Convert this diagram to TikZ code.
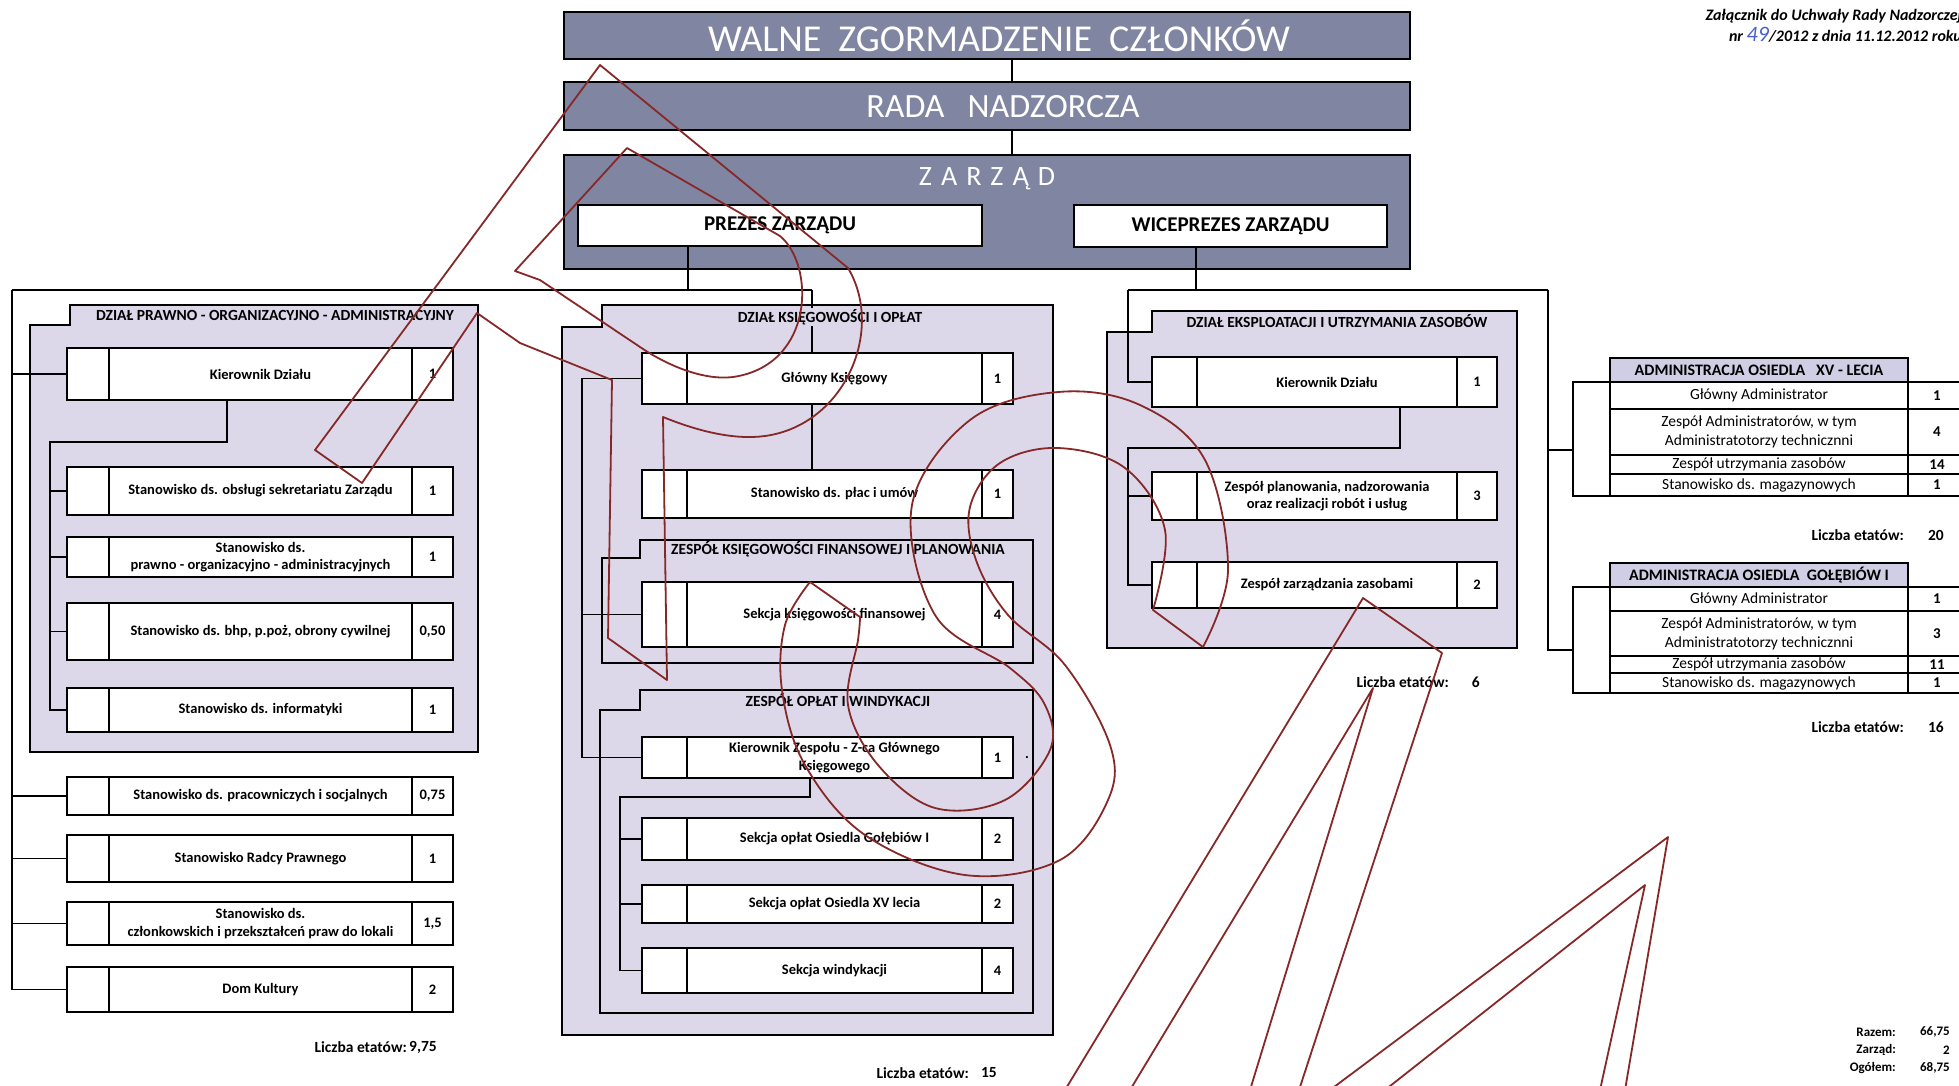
\documentclass[tikz,border=0pt]{standalone}
\usepackage{fontspec}
\setmainfont{Carlito}
\usetikzlibrary{calc}

\definecolor{zarzadblue}{RGB}{128,134,162}
\definecolor{deptlav}{RGB}{220,216,234}
\definecolor{headlav}{RGB}{208,206,228}
\definecolor{inkblue}{RGB}{70,95,205}
\definecolor{stampred}{RGB}{135,40,40}

\tikzset{
  topbox/.style={draw, line width=2.2pt, fill=zarzadblue, inner sep=0pt},
  toptext/.style={text=white, inner sep=0pt},
  headbox/.style={draw, line width=2pt, fill=white, inner sep=0pt,
    font=\bfseries\fontsize{21}{23}\selectfont},
  dept/.style={draw, line width=1.8pt, fill=deptlav},
  depttitle/.style={font=\bfseries\fontsize{15.5}{17}\selectfont, inner sep=1pt},
  posbox/.style={draw, line width=2pt, fill=white, inner sep=0pt, outer sep=0pt},
  cellrule/.style={line width=1.2pt},
  postext/.style={font=\bfseries\fontsize{14.5}{17.5}\selectfont, align=center, inner sep=1pt},
  conn/.style={line width=1.1pt},
  admhead/.style={draw, line width=1.6pt, fill=headlav, inner sep=0pt,
    font=\bfseries\fontsize{16}{18}\selectfont},
  admbox/.style={draw, line width=1.8pt, fill=white, inner sep=0pt},
  rowrule/.style={line width=1.1pt},
  admtext/.style={font=\fontsize{15.5}{19}\selectfont, align=center, inner sep=1pt},
  admnum/.style={font=\bfseries\fontsize{15}{17}\selectfont, inner sep=1pt},
  etaty/.style={font=\bfseries\fontsize{15.5}{17}\selectfont, inner sep=1pt},
  sumtext/.style={font=\bfseries\fontsize{13}{15}\selectfont, inner sep=1pt},
  stamp/.style={draw=stampred, line width=1.8pt, line join=round},
}

% name, left, top, right, bottom, left cell, right cell, text, number
\newcommand{\stan}[9]{%
  \node[posbox, minimum width={(#4-#2)*1pt}, minimum height={(#5-#3)*1pt}] (#1) at ({(#2+#4)/2},{(#3+#5)/2}) {};
  \draw[cellrule] ($(#1.north west)+(#6,0)$) -- ($(#1.south west)+(#6,0)$);
  \draw[cellrule] ($(#1.north east)-(#7,0)$) -- ($(#1.south east)-(#7,0)$);
  \node[postext] (#1-t) at ({(#2+#6+#4-#7)/2},{(#3+#5)/2}) {#8};
  \node[postext] (#1-n) at ({#4-#7/2},{(#3+#5)/2}) {#9};
}
% notch x, left x, top y, notch y, right x, bottom y
\newcommand{\deptframe}[6]{%
  \filldraw[dept] (#1,#3) -- (#5,#3) -- (#5,#6) -- (#2,#6) -- (#2,#4) -- (#1,#4) -- cycle;}

\begin{document}
\begin{tikzpicture}[x=1pt,y=-1pt]
  \path[use as bounding box, fill=white] (0,0) rectangle (1959,1085);

  % header note
  \node[anchor=east, font=\bfseries\itshape\fontsize{16}{18}\selectfont, inner sep=0pt] (zal1) at (1962,16) {Załącznik do Uchwały Rady Nadzorczej};
  \node[anchor=east, font=\bfseries\itshape\fontsize{16}{18}\selectfont, inner sep=0pt] (zal2) at (1962,35)
    {nr {\color{inkblue}\fontsize{22}{22}\selectfont\mdseries 49}/2012 z dnia 11.12.2012 roku};

  % governing bodies
  \node[topbox, minimum width=846pt, minimum height=47pt] (walne) at (987,35.5) {};
  \node[toptext, font=\fontsize{38}{40}\selectfont] (walnet) at (999,36) {WALNE\ \ ZGORMADZENIE\ \ CZŁONKÓW};
  \node[topbox, minimum width=846pt, minimum height=48pt] (rada) at (987,106) {};
  \node[toptext, font=\fontsize{34}{36}\selectfont] (radat) at (1003,107) {RADA\ \ \ NADZORCZA};
  \node[topbox, minimum width=846pt, minimum height=114pt] (zarzad) at (987,212) {};
  \node[toptext, font=\fontsize{28}{30}\selectfont] (zarzadt) at (987,179)
    {Z\hspace{9pt}A\hspace{9pt}R\hspace{9pt}Z\hspace{9pt}Ą\hspace{9pt}D};
  \node[headbox, minimum width=404pt, minimum height=41pt] (prezes) at (780,225.5) {PREZES ZARZĄDU};
  \node[headbox, minimum width=313pt, minimum height=42pt] (wice) at (1230.5,226) {WICEPREZES ZARZĄDU};

  \coordinate (t0) at (1012,0);
  \draw[conn] (walne.south -| t0) -- (rada.north -| t0);
  \draw[conn] (rada.south -| t0) -- (zarzad.north -| t0);

  % departments
  \deptframe{70}{30}{305}{325}{478}{752}
  \deptframe{602}{562}{305}{327}{1053}{1035}
  \deptframe{640}{602}{540}{558}{1033}{663}
  \deptframe{640}{600}{690}{710}{1033}{1013}
  \deptframe{1152}{1107}{311}{332}{1517}{648}

  % connectors
  \coordinate (jL) at (12,290);
  \coordinate (jM) at (812,290);
  \coordinate (p0) at (688,290);
  \coordinate (jE) at (1128,290);
  \coordinate (jA) at (1548,290);
  \coordinate (w0) at (1196,290);
  \draw[conn] (prezes.south -| p0) -- (p0);
  \draw[conn] (wice.south -| w0) -- (w0);
  \draw[conn] (jM) -- (jL);
  \draw[conn] (jE) -- (jA);

  \node[depttitle] (dpo) at (275,315) {DZIAŁ PRAWNO - ORGANIZACYJNO - ADMINISTRACYJNY};
  \node[depttitle] (deks) at (1337,321) {DZIAŁ EKSPLOATACJI I UTRZYMANIA ZASOBÓW};
  \node[depttitle] (dzkf) at (838,549) {ZESPÓŁ KSIĘGOWOŚCI FINANSOWEJ I PLANOWANIA};
  \node[depttitle] (dzow) at (838,700) {ZESPÓŁ OPŁAT I WINDYKACJI};

  % left department
  \stan{kierA}{67}{348}{453}{400}{42}{41}{Kierownik Działu}{1}
  \stan{sekr}{67}{467}{453}{515}{42}{41}{Stanowisko ds. obsługi sekretariatu Zarządu}{1}
  \stan{praw}{67}{537}{453}{577}{42}{41}{Stanowisko ds.\\prawno - organizacyjno - administracyjnych}{1}
  \stan{bhp}{67}{603}{453}{660}{42}{41}{Stanowisko ds. bhp, p.poż, obrony cywilnej}{0,50}
  \stan{inf}{67}{688}{453}{732}{42}{41}{Stanowisko ds. informatyki}{1}
  \stan{prac}{67}{777}{453}{815}{42}{41}{Stanowisko ds. pracowniczych i socjalnych}{0,75}
  \stan{radca}{67}{835}{453}{882}{42}{41}{Stanowisko Radcy Prawnego}{1}
  \stan{czlon}{67}{902}{453}{945}{42}{41}{Stanowisko ds.\\członkowskich i przekształceń praw do lokali}{1,5}
  \stan{domk}{67}{967}{453}{1012}{42}{41}{Dom Kultury}{2}

  \draw[conn] (jL) |- (domk.west);
  \foreach \n in {kierA,prac,radca,czlon}
    \draw[conn] (jL |- \n.west) -- (\n.west);
  \coordinate (a1) at (227,442);
  \coordinate (a2) at (50,442);
  \draw[conn] (kierA.south -| a1) -- (a1) -- (a2) |- (inf.west);
  \foreach \n in {sekr,praw,bhp}
    \draw[conn] (a2 |- \n.west) -- (\n.west);

  % middle department
  \draw[conn] (jM) -- (jM |- 0,353);
  \node[depttitle, fill=deptlav] (dko) at (830,317) {DZIAŁ KSIĘGOWOŚCI I OPŁAT};
  \stan{glowny}{642}{353}{1013}{404}{45}{31}{Główny Księgowy}{1}
  \stan{place}{642}{470}{1013}{518}{45}{31}{Stanowisko ds. płac i umów}{1}
  \stan{sekfin}{642}{582}{1013}{647}{45}{31}{Sekcja księgowości finansowej}{4}
  \stan{kierzesp}{642}{737}{1013}{778}{45}{31}{Kierownik Zespołu - Z-ca Głównego\\Księgowego}{1}
  \stan{sekgol}{642}{818}{1013}{860}{45}{31}{Sekcja opłat Osiedla Gołębiów I}{2}
  \stan{sekxv}{642}{885}{1013}{923}{45}{31}{Sekcja opłat Osiedla XV lecia}{2}
  \stan{windyk}{642}{948}{1013}{993}{45}{31}{Sekcja windykacji}{4}
  \node[postext] (kropka) at (1027,758) {.};

  \draw[conn] (glowny.south -| jM) -- (place.north -| jM);
  \coordinate (m1) at (582,375);
  \draw[conn] (glowny.west) -- (glowny.west -| m1) |- (kierzesp.west);
  \draw[conn] (m1 |- sekfin.west) -- (sekfin.west);
  \coordinate (m2) at (620,797);
  \coordinate (m3) at (810,797);
  \draw[conn] (kierzesp.south -| m3) -- (m3) -- (m2) |- (windyk.west);
  \foreach \n in {sekgol,sekxv}
    \draw[conn] (m2 |- \n.west) -- (\n.west);

  % right department
  \stan{kierE}{1152}{357}{1497}{407}{45}{40}{Kierownik Działu}{1}
  \stan{zplan}{1152}{472}{1497}{520}{45}{40}{Zespół planowania, nadzorowania\\oraz realizacji robót i usług}{3}
  \stan{zzas}{1152}{562}{1497}{608}{45}{40}{Zespół zarządzania zasobami}{2}
  \draw[conn] (jE) |- (kierE.west);
  \coordinate (e1) at (1400,448);
  \coordinate (e2) at (1128,448);
  \draw[conn] (kierE.south -| e1) -- (e1) -- (e2) |- (zzas.west);
  \draw[conn] (e2 |- zplan.west) -- (zplan.west);

  % estate administrations
  \node[admbox, minimum width=392pt, minimum height=114pt] (admxvtab) at (1769,439) {};
  \node[admhead, minimum width=298pt, minimum height=24pt] (admxv) at (1759,370) {ADMINISTRACJA OSIEDLA\ \ \ XV - LECIA};
  \foreach \y in {409,455,474}
    \draw[rowrule] (1610,\y) -- (1965,\y);
  \draw[rowrule] (1610,382) -- (1610,496);
  \draw[rowrule] (1908,382) -- (1908,496);
  \node[admtext] (xv1) at (1759,395.5) {Główny Administrator};
  \node[admtext] (xv2) at (1759,432) {Zespół Administratorów, w tym\\Administratotorzy technicznni};
  \node[admtext] (xv3) at (1759,464.5) {Zespół utrzymania zasobów};
  \node[admtext] (xv4) at (1759,485) {Stanowisko ds. magazynowych};
  \node[admnum] (xv1n) at (1937,395.5) {1};
  \node[admnum] (xv2n) at (1937,432) {4};
  \node[admnum] (xv3n) at (1937,464.5) {14};
  \node[admnum] (xv4n) at (1937,485) {1};

  \node[admbox, minimum width=392pt, minimum height=106pt] (admgoltab) at (1769,640) {};
  \node[admhead, minimum width=298pt, minimum height=24pt] (admgol) at (1759,575) {ADMINISTRACJA OSIEDLA\ \ GOŁĘBIÓW I};
  \foreach \y in {611,656,673}
    \draw[rowrule] (1610,\y) -- (1965,\y);
  \draw[rowrule] (1610,587) -- (1610,693);
  \draw[rowrule] (1908,587) -- (1908,693);
  \node[admtext] (gol1) at (1759,599) {Główny Administrator};
  \node[admtext] (gol2) at (1759,633.5) {Zespół Administratorów, w tym\\Administratotorzy technicznni};
  \node[admtext] (gol3) at (1759,664.5) {Zespół utrzymania zasobów};
  \node[admtext] (gol4) at (1759,683) {Stanowisko ds. magazynowych};
  \node[admnum] (gol1n) at (1937,599) {1};
  \node[admnum] (gol2n) at (1937,633.5) {3};
  \node[admnum] (gol3n) at (1937,664.5) {11};
  \node[admnum] (gol4n) at (1937,683) {1};

  \coordinate (bxv) at (1548,450);
  \coordinate (bgol) at (1548,650);
  \draw[conn] (jA) -- (bgol) -- (bgol -| admgoltab.west);
  \draw[conn] (bxv) -- (bxv -| admxvtab.west);

  % staff counts
  \node[etaty, anchor=east] (le1) at (408,1047) {Liczba etatów:};
  \node[etaty, anchor=east] (le1n) at (438,1047) {9,75};
  \node[etaty, anchor=east] (le2) at (970,1073) {Liczba etatów:};
  \node[etaty, anchor=east] (le2n) at (998,1073) {15};
  \node[etaty, anchor=east] (le3) at (1450,682) {Liczba etatów:};
  \node[etaty, anchor=east] (le3n) at (1481,682) {6};
  \node[etaty, anchor=east] (le4) at (1905,535) {Liczba etatów:};
  \node[etaty, anchor=east] (le4n) at (1945,535) {20};
  \node[etaty, anchor=east] (le5) at (1905,727) {Liczba etatów:};
  \node[etaty, anchor=east] (le5n) at (1945,727) {16};

  \node[sumtext, anchor=east] (raz) at (1897,1032) {Razem:};
  \node[sumtext, anchor=east] (razn) at (1951,1032) {66,75};
  \node[sumtext, anchor=east] (zar) at (1897,1050) {Zarząd:};
  \node[sumtext, anchor=east] (zarn) at (1951,1050) {2};
  \node[sumtext, anchor=east] (ogo) at (1897,1068) {Ogółem:};
  \node[sumtext, anchor=east] (ogon) at (1951,1068) {68,75};

  % hand-drawn stamp letters
  \draw[stamp] (362,483) -- (477,313) -- (520,343) -- (612,380) -- (608,638) -- (667,680) -- (663,417)
    .. controls (700,432) and (735,440) .. (765,436)
    .. controls (845,425) and (885,330) .. (848,268) -- (600,65) -- (315,450) -- cycle;
  \draw[stamp] (627,148) -- (780,236)
    .. controls (815,265) and (815,365) .. (733,377)
    .. controls (700,381) and (662,362) .. (640,347) -- (540,280) -- (515,271) -- cycle;
  \draw[stamp] plot[smooth, tension=0.6] coordinates {(810,582) (785,625) (782,690) (805,765) (865,835)
      (965,875) (1060,860) (1108,800) (1110,745) (1065,665) (1008,615) (976,560) (970,507) (1000,463)
      (1058,448) (1125,468) (1165,530) (1153,610)}
    -- (1203,647);
  \draw[stamp] plot[smooth, tension=0.6] coordinates {(1203,647) (1228,570) (1205,460) (1140,405)
      (1058,392) (970,420) (912,505) (935,615) (1010,668) (1045,705) (1050,750) (1005,800)
      (935,808) (878,765) (848,705) (858,640) (860,617)}
    -- (810,582);
  \draw[stamp] (1065,1090) -- (1363,598) -- (1442,653) -- (1299,1090);
  \draw[stamp] (1130,1090) -- (1373,688) -- (1250,1090);
  \draw[stamp] (1330,1090) -- (1668,837) -- (1625,1090);
  \draw[stamp] (1385,1090) -- (1645,885) -- (1600,1090);
\end{tikzpicture}
\end{document}
